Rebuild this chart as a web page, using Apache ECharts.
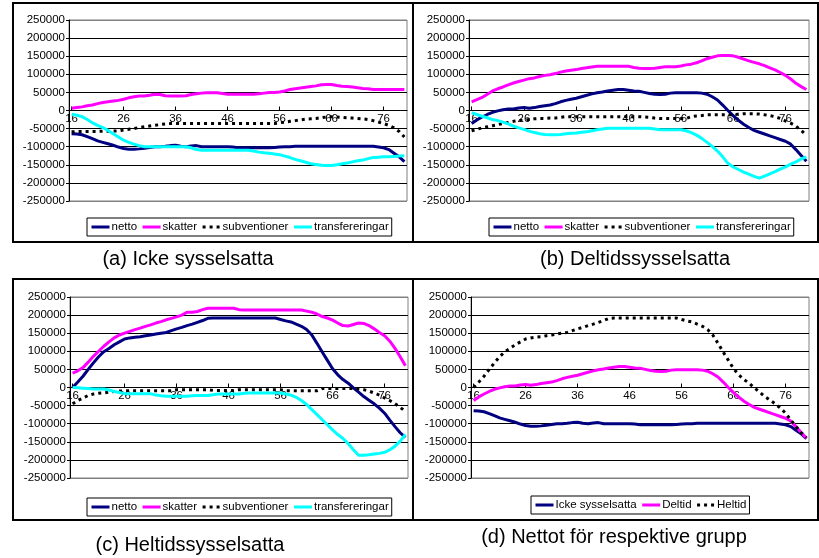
<!DOCTYPE html>
<html>
<head>
<meta charset="utf-8">
<script src="https://cdn.jsdelivr.net/npm/echarts@6/dist/echarts.min.js"></script>
<style>
html,body{margin:0;padding:0;background:#fff;}
#c{width:819px;height:558px;}
</style>
</head>
<body>
<div id="c"></div>
<script>
var ages = ['16','17','18','19','20','21','22','23','24','25','26','27','28','29','30','31','32','33','34','35','36','37','38','39','40','41','42','43','44','45','46','47','48','49','50','51','52','53','54','55','56','57','58','59','60','61','62','63','64','65','66','67','68','69','70','71','72','73','74','75','76','77','78','79','80'];
var yTicks = [-250000, 250000, 50000];

// (a) Icke sysselsatta
var nettoA = [-64000,-65000,-67000,-72000,-78000,-84000,-88000,-92000,-96000,-101000,
-105000,-107000,-107000,-106000,-104000,-102000,-100000,-100000,-99000,-97000,
-96000,-99000,-100000,-98000,-97000,-100000,-100000,-100000,-100000,-100000,
-100000,-101000,-103000,-103000,-103000,-103000,-103000,-103000,-103000,-102000,
-101000,-100000,-100000,-99000,-99000,-99000,-99000,-99000,-99000,-99000,
-99000,-99000,-99000,-99000,-99000,-99000,-99000,-99000,-99000,-101000,
-103000,-108000,-118000,-128000,-141000];
var skatterA = [6000,8000,10000,13000,15000,19000,22000,24000,26000,28000,
31000,35000,38000,40000,40000,42000,45000,44000,41000,40000,
40000,40000,41000,44000,46000,48000,49000,49000,49000,47000,
45000,45000,45000,45000,45000,45000,46000,48000,50000,50000,
51000,54000,58000,60000,62000,64000,66000,68000,71000,72000,
72000,69000,67000,66000,65000,63000,61000,60000,58000,58000,
58000,58000,58000,58000,58000];
var subvA = [-59000,-58000,-58000,-58000,-58000,-58000,-57000,-57000,-57000,-56000,
-54000,-52000,-50000,-47000,-45000,-43000,-41000,-39000,-37000,-36000,
-36000,-36000,-36000,-36000,-36000,-36000,-36000,-36000,-36000,-36000,
-36000,-36000,-36000,-36000,-36000,-36000,-36000,-36000,-36000,-36000,
-34000,-32000,-30000,-28000,-26000,-24000,-23000,-22000,-20000,-18000,
-17000,-18000,-19000,-20000,-21000,-22000,-23000,-25000,-28000,-32000,
-36000,-41000,-48000,-58000,-73000];
var transA = [-10000,-13000,-17000,-25000,-34000,-41000,-47000,-55000,-64000,-73000,
-82000,-88000,-93000,-97000,-100000,-100000,-100000,-100000,-100000,-100000,
-100000,-100000,-100000,-103000,-108000,-110000,-110000,-110000,-110000,-110000,
-110000,-110000,-110000,-110000,-110000,-112000,-115000,-117000,-118000,-120000,
-122000,-126000,-130000,-135000,-139000,-143000,-147000,-149000,-151000,-152000,
-152000,-150000,-147000,-145000,-142000,-139000,-137000,-133000,-130000,-129000,
-128000,-128000,-127000,-126000,-125000];

// (b) Deltidssysselsatta
var nettoB = [-36000,-26000,-18000,-11000,-5000,-1000,2000,4000,4000,7000,
8000,6000,8000,11000,13000,15000,19000,24000,28000,31000,
34000,38000,42000,46000,49000,51000,54000,56000,58000,58000,
56000,54000,53000,50000,47000,45000,44000,45000,48000,49000,
49000,49000,49000,49000,48000,45000,38000,29000,15000,0,
-14000,-27000,-38000,-47000,-55000,-60000,-65000,-70000,-75000,-80000,
-85000,-93000,-108000,-124000,-140000];
var skatterB = [24000,30000,36000,45000,54000,60000,65000,71000,76000,80000,
84000,88000,90000,94000,97000,99000,102000,106000,109000,111000,
113000,116000,118000,120000,122000,122000,122000,122000,122000,122000,
122000,119000,117000,116000,116000,117000,119000,121000,121000,121000,
123000,126000,128000,132000,137000,143000,147000,151000,152000,152000,
151000,147000,142000,137000,133000,129000,124000,118000,112000,105000,
97000,87000,75000,66000,58000];
var subvB = [-56000,-52000,-48000,-45000,-42000,-39000,-36000,-33000,-30000,-28000,
-27000,-25000,-23000,-22000,-22000,-21000,-21000,-19000,-17000,-17000,
-17000,-17000,-17000,-17000,-17000,-17000,-17000,-17000,-17000,-17000,
-17000,-17000,-17000,-18000,-19000,-21000,-22000,-22000,-22000,-22000,
-22000,-22000,-17000,-15000,-14000,-12000,-12000,-12000,-12000,-12000,
-12000,-10000,-9000,-9000,-9000,-10000,-12000,-14000,-17000,-22000,
-29000,-35000,-43000,-55000,-68000];
var transB = [-6000,-11000,-16000,-20000,-25000,-28000,-32000,-37000,-43000,-48000,
-52000,-57000,-61000,-64000,-66000,-67000,-67000,-66000,-64000,-63000,
-62000,-60000,-59000,-56000,-53000,-51000,-49000,-49000,-49000,-49000,
-49000,-49000,-49000,-49000,-49000,-51000,-53000,-53000,-53000,-53000,
-53000,-56000,-61000,-68000,-77000,-88000,-99000,-112000,-128000,-146000,
-156000,-163000,-170000,-176000,-182000,-187000,-181000,-175000,-169000,-162000,
-156000,-148000,-142000,-134000,-128000];

// (c) Heltidssysselsatta
var nettoC = [0,15000,31000,50000,68000,85000,99000,108000,118000,126000,
134000,137000,139000,140000,143000,145000,148000,150000,152000,157000,
162000,166000,171000,175000,180000,185000,191000,192000,192000,192000,
192000,192000,192000,192000,192000,192000,192000,192000,192000,192000,
188000,184000,181000,175000,169000,160000,145000,122000,98000,75000,
52000,35000,22000,12000,-1000,-13000,-25000,-35000,-45000,-57000,
-71000,-90000,-108000,-125000,-138000];
var skatterC = [40000,46000,55000,70000,86000,100000,114000,126000,137000,145000,
150000,155000,160000,164000,169000,173000,178000,182000,187000,191000,
195000,200000,208000,208000,210000,215000,219000,219000,219000,219000,
219000,219000,215000,214000,214000,214000,214000,214000,214000,214000,
214000,214000,214000,214000,214000,211000,208000,203000,196000,192000,
186000,178000,171000,170000,174000,178000,177000,171000,162000,152000,
143000,128000,108000,85000,60000];
var subvC = [-45000,-36000,-29000,-22000,-18000,-16000,-15000,-13000,-11000,-10000,
-9000,-9000,-9000,-9000,-9000,-9000,-9000,-9000,-9000,-9000,
-6000,-6000,-6000,-6000,-6000,-6000,-6000,-8000,-8000,-8000,
-8000,-8000,-6000,-6000,-6000,-6000,-6000,-6000,-6000,-6000,
-6000,-9000,-9000,-9000,-9000,-9000,-9000,-9000,-3000,-3000,
-3000,-3000,-3000,-3000,-3000,-4000,-6000,-10000,-15000,-21000,
-29000,-36000,-45000,-55000,-66000];
var transC = [0,-1000,-2000,-3000,-4000,-4000,-4000,-7000,-11000,-14000,
-17000,-17000,-17000,-17000,-17000,-17000,-21000,-23000,-24000,-24000,
-24000,-24000,-24000,-23000,-22000,-22000,-22000,-20000,-18000,-18000,
-18000,-18000,-18000,-16000,-15000,-15000,-15000,-15000,-15000,-15000,
-15000,-18000,-21000,-27000,-36000,-47000,-61000,-75000,-89000,-103000,
-117000,-130000,-141000,-155000,-172000,-187000,-187000,-186000,-184000,-182000,
-179000,-172000,-162000,-148000,-130000];

var namesABC = ['netto','skatter','subventioner','transfereringar'];
var namesD = ['Icke sysselsatta','Deltid','Heltid'];
var captions = ['(a) Icke sysselsatta','(b) Deltidssysselsatta','(c) Heltidssysselsatta','(d) Nettot för respektive grupp'];

var FONT = '"Liberation Sans", Arial, sans-serif';
var NAVY = '#000080', MAG = '#FF00FF', CYAN = '#00FFFF', BLK = '#000000';

var grids = [
  {left:69, top:20, width:338, height:181},
  {left:469, top:20, width:340, height:181},
  {left:70, top:297, width:338, height:181},
  {left:471, top:297, width:338, height:181}
];
var splitColors = ['#808080','#000','#000','#000','#000','#000','#000','#000','#000','#000','#808080'];

var xAxes = [], yAxes = [];
for (var i = 0; i < 4; i++) {
  grids[i].show = true;
  grids[i].borderColor = '#808080';
  grids[i].borderWidth = 1;
  grids[i].backgroundColor = '#fff';
  grids[i].containLabel = false;
  xAxes.push({
    type:'category', gridIndex:i, data:ages, boundaryGap:true, position:'bottom',
    offset: -grids[i].height / 2,
    axisLine:{onZero:false, lineStyle:{color:'#000', width:1}},
    axisTick:{show:true, interval:9, inside:true, length:4, alignWithLabel:true, lineStyle:{color:'#000'}},
    axisLabel:{interval:9, margin:2, color:'#000', fontFamily:FONT, fontSize:11.5},
    splitLine:{show:false}
  });
  yAxes.push({
    type:'value', gridIndex:i, min:yTicks[0], max:yTicks[1], interval:yTicks[2],
    axisLine:{show:true, onZero:false, lineStyle:{color:'#000', width:1}},
    axisTick:{show:true, length:3, lineStyle:{color:'#000'}},
    axisLabel:{margin:4, color:'#000', fontFamily:FONT, fontSize:11.5, formatter:function(v){ return String(v); }},
    splitLine:{show:true, lineStyle:{color:splitColors, width:1}}
  });
}

function ln(name, idx, data, color, dotted) {
  return {
    name:name, type:'line', xAxisIndex:idx, yAxisIndex:idx, data:data,
    symbol:'none', showSymbol:false, smooth:false,
    lineStyle:{color:color, width:3, type: dotted ? [3,4] : 'solid', cap:'butt'},
    itemStyle:{color:color},
    z:2
  };
}

var series = [
  ln('netto',0,nettoA,NAVY), ln('skatter',0,skatterA,MAG), ln('subventioner',0,subvA,BLK,true), ln('transfereringar',0,transA,CYAN),
  ln('netto',1,nettoB,NAVY), ln('skatter',1,skatterB,MAG), ln('subventioner',1,subvB,BLK,true), ln('transfereringar',1,transB,CYAN),
  ln('netto',2,nettoC,NAVY), ln('skatter',2,skatterC,MAG), ln('subventioner',2,subvC,BLK,true), ln('transfereringar',2,transC,CYAN),
  ln('Icke sysselsatta',3,nettoA,NAVY), ln('Deltid',3,nettoB,MAG), ln('Heltid',3,nettoC,BLK,true)
];

function lg(left, top, data) {
  return {
    left:left, top:top, orient:'horizontal', data:data,
    itemWidth:18, itemHeight:12, itemGap:4, padding:[3,3],
    borderColor:'#000', borderWidth:1, backgroundColor:'#fff',
    selectedMode:false,
    lineStyle:{width:3},
    itemStyle:{color:'transparent', borderColor:'transparent', borderWidth:0, opacity:0},
    textStyle:{color:'#000', fontFamily:FONT, fontSize:11.5, padding:[0,0,0,-3]}
  };
}
var legends = [
  lg(87,218,namesABC), lg(489,218,namesABC), lg(87,498,namesABC), lg(531,496,namesD)
];

var boxes = [[13,3,400,239],[413,3,405,239],[13,279,400,241],[413,279,405,241]];
var capPos = [[188,259],[635,259],[190,545],[614,537]];
var graphic = [];
boxes.forEach(function(b){
  graphic.push({type:'rect', shape:{x:b[0], y:b[1], width:b[2], height:b[3]}, style:{fill:null, stroke:'#000', lineWidth:2}, z:-10, silent:true});
});
capPos.forEach(function(p, i){
  graphic.push({type:'text', x:p[0], y:p[1], style:{text:captions[i], fill:'#000', font:'20px ' + FONT, textAlign:'center', textVerticalAlign:'middle'}, silent:true});
});

var chart = echarts.init(document.getElementById('c'), null, {renderer:'canvas'});
chart.setOption({
  animation:false,
  backgroundColor:'#fff',
  grid:grids, xAxis:xAxes, yAxis:yAxes,
  legend:legends,
  series:series,
  graphic:graphic
});
</script>
</body>
</html>
